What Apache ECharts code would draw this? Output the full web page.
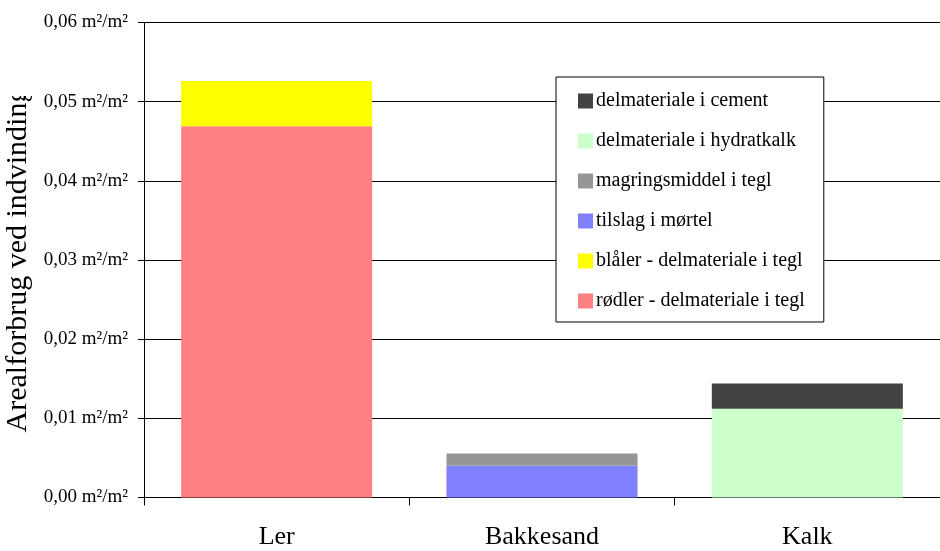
<!DOCTYPE html>
<html>
<head>
<meta charset="utf-8">
<script src="https://cdn.jsdelivr.net/npm/echarts@6/dist/echarts.min.js"></script>
<style>
html,body{margin:0;padding:0;background:#fff;}
#chart{width:940px;height:551px;}
</style>
</head>
<body>
<div id="chart"></div>
<script>
const categories = ['Ler', 'Bakkesand', 'Kalk'];
const rodler = [0.0469, 0, 0];
const blaler = [0.0057, 0, 0];
const tilslag = [0, 0.0040, 0];
const magring = [0, 0.00155, 0];
const hydratkalk = [0, 0, 0.0112];
const cement = [0, 0, 0.0032];
const yTicks = { min: 0, max: 0.06, interval: 0.01 };
const yTitle = 'Arealforbrug ved indvinding';

const FONT = '"Liberation Serif", "DejaVu Serif", serif';

const seriesDefs = [
  { name: 'rødler - delmateriale i tegl', data: rodler, color: '#FF8080' },
  { name: 'blåler - delmateriale i tegl', data: blaler, color: '#FFFF00' },
  { name: 'tilslag i mørtel', data: tilslag, color: '#8080FF' },
  { name: 'magringsmiddel i tegl', data: magring, color: '#969696' },
  { name: 'delmateriale i hydratkalk', data: hydratkalk, color: '#CCFFCC' },
  { name: 'delmateriale i cement', data: cement, color: '#434343' }
];

const chart = echarts.init(document.getElementById('chart'), null, { renderer: 'canvas' });
chart.setOption({
  animation: false,
  backgroundColor: '#fff',
  grid: { left: 144, right: 0, top: 22.5, bottom: 53.5, containLabel: false, outerBoundsMode: 'none' },
  legend: {
    orient: 'vertical',
    left: 556,
    top: 77,
    data: seriesDefs.map(s => s.name).reverse(),
    itemWidth: 15,
    itemHeight: 15,
    itemGap: 20,
    padding: [14, 19, 11, 22],
    borderColor: '#000',
    borderWidth: 1,
    backgroundColor: '#fff',
    icon: 'rect',
    textStyle: { fontFamily: FONT, fontSize: 20, lineHeight: 20, color: '#000', padding: [0, 0, 0, -2] }
  },
  xAxis: {
    type: 'category',
    data: categories,
    boundaryGap: true,
    axisLine: { show: true, lineStyle: { color: '#000', width: 1 } },
    axisTick: { show: true, length: 8, lineStyle: { color: '#000' } },
    axisLabel: { fontFamily: FONT, fontSize: 26, color: '#000', margin: 27 },
    splitLine: { show: false }
  },
  yAxis: {
    type: 'value',
    min: yTicks.min,
    max: yTicks.max,
    interval: yTicks.interval,
    name: yTitle,
    nameLocation: 'middle',
    nameGap: 107,
    nameTextStyle: { fontFamily: FONT, fontSize: 30, color: '#000' },
    axisLine: { show: true, lineStyle: { color: '#000', width: 1 } },
    axisTick: { show: true, length: 6, lineStyle: { color: '#000' } },
    axisLabel: {
      fontFamily: FONT, fontSize: 19, color: '#000', margin: 16,
      formatter: v => v.toFixed(2).replace('.', ',') + ' m²/m²'
    },
    splitLine: { show: true, lineStyle: { color: '#000', width: 1 } }
  },
  graphic: [
    { type: 'rect', left: 0, top: 0, z: 100, shape: { width: 38, height: 96 }, style: { fill: '#fff' } }
  ],
  series: seriesDefs.map(s => ({
    name: s.name,
    type: 'bar',
    stack: 'total',
    barWidth: '72%',
    data: s.data,
    itemStyle: { color: s.color },
    emphasis: { disabled: true }
  }))
});
</script>
</body>
</html>
